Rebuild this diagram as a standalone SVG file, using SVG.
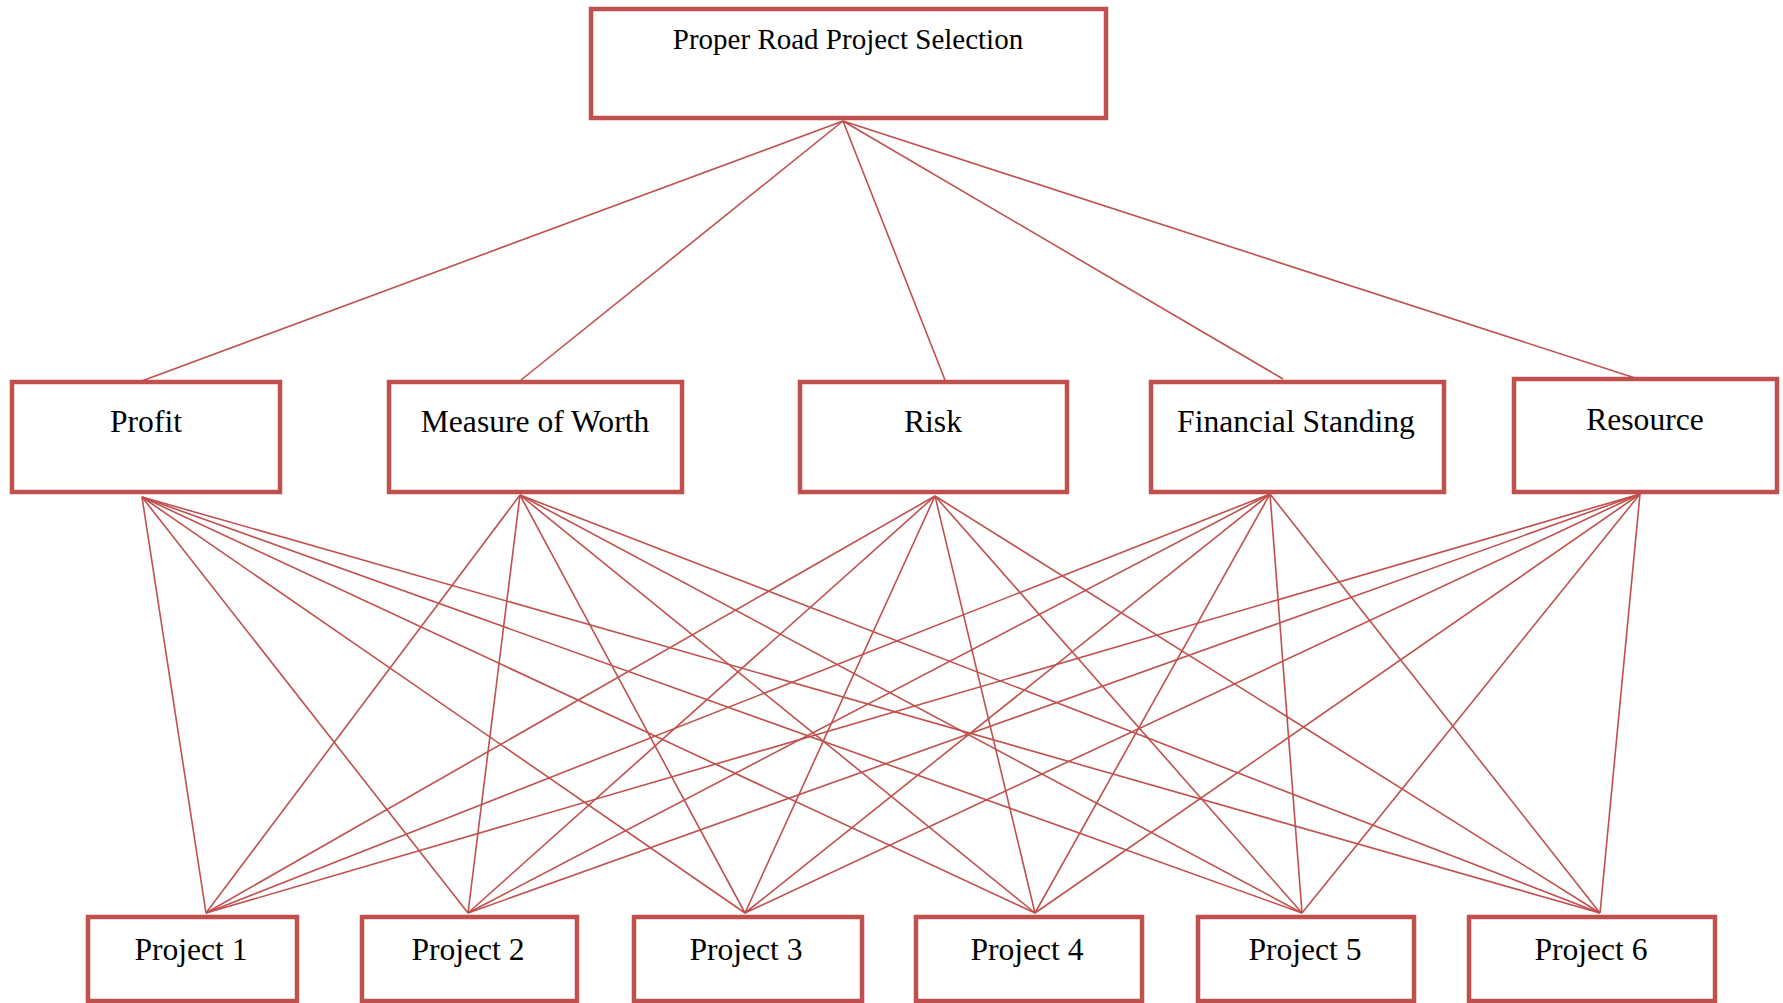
<svg xmlns="http://www.w3.org/2000/svg" width="1783" height="1003" viewBox="0 0 1783 1003">
  <style>
    .box { fill: #ffffff; stroke: #C0504D; stroke-width: 4.5; }
    .lbl { font-family: "Liberation Serif", "Times New Roman", serif; font-size: 31.6px; fill: #000000; text-anchor: middle; }
    .goal { font-size: 29px; }
    #connectors line { stroke: #C0504D; stroke-width: 1.6; }
  </style>
  <rect width="1783" height="1003" fill="#ffffff"/>

  <!-- connectors: goal to criteria, criteria to alternatives -->
  <g id="connectors">
    <line x1="843" y1="121" x2="139" y2="382"/>
    <line x1="843" y1="121" x2="521" y2="380"/>
    <line x1="843" y1="121" x2="945" y2="380"/>
    <line x1="843" y1="121" x2="1283" y2="379"/>
    <line x1="843" y1="121" x2="1635" y2="378"/>

    <!-- Profit -->
    <line x1="142" y1="497" x2="206" y2="913"/>
    <line x1="142" y1="497" x2="468" y2="913"/>
    <line x1="142" y1="497" x2="745" y2="913"/>
    <line x1="142" y1="497" x2="1035" y2="913"/>
    <line x1="142" y1="497" x2="1302" y2="913"/>
    <line x1="142" y1="497" x2="1600" y2="913"/>
    <!-- Measure of Worth -->
    <line x1="520" y1="495" x2="206" y2="913"/>
    <line x1="520" y1="495" x2="468" y2="913"/>
    <line x1="520" y1="495" x2="745" y2="913"/>
    <line x1="520" y1="495" x2="1035" y2="913"/>
    <line x1="520" y1="495" x2="1302" y2="913"/>
    <line x1="520" y1="495" x2="1600" y2="913"/>
    <!-- Risk -->
    <line x1="935" y1="496" x2="206" y2="913"/>
    <line x1="935" y1="496" x2="468" y2="913"/>
    <line x1="935" y1="496" x2="745" y2="913"/>
    <line x1="935" y1="496" x2="1035" y2="913"/>
    <line x1="935" y1="496" x2="1302" y2="913"/>
    <line x1="935" y1="496" x2="1600" y2="913"/>
    <!-- Financial Standing -->
    <line x1="1270" y1="494" x2="206" y2="913"/>
    <line x1="1270" y1="494" x2="468" y2="913"/>
    <line x1="1270" y1="494" x2="745" y2="913"/>
    <line x1="1270" y1="494" x2="1035" y2="913"/>
    <line x1="1270" y1="494" x2="1302" y2="913"/>
    <line x1="1270" y1="494" x2="1600" y2="913"/>
    <!-- Resource -->
    <line x1="1640" y1="494" x2="206" y2="913"/>
    <line x1="1640" y1="494" x2="468" y2="913"/>
    <line x1="1640" y1="494" x2="745" y2="913"/>
    <line x1="1640" y1="494" x2="1035" y2="913"/>
    <line x1="1640" y1="494" x2="1302" y2="913"/>
    <line x1="1640" y1="494" x2="1600" y2="913"/>
  </g>

  <!-- goal -->
  <g id="goal">
    <rect class="box" x="591" y="9" width="515" height="109"/>
    <text class="lbl goal" x="848" y="49">Proper Road Project Selection</text>
  </g>

  <!-- criteria -->
  <g id="profit">
    <rect class="box" x="12" y="382" width="268" height="110"/>
    <text class="lbl" x="146" y="432">Profit</text>
  </g>
  <g id="measure-of-worth">
    <rect class="box" x="389" y="382" width="293" height="110"/>
    <text class="lbl" x="535" y="432">Measure of Worth</text>
  </g>
  <g id="risk">
    <rect class="box" x="800" y="382" width="267" height="110"/>
    <text class="lbl" x="933" y="432">Risk</text>
  </g>
  <g id="financial-standing">
    <rect class="box" x="1151" y="382" width="293" height="110"/>
    <text class="lbl" x="1296" y="432">Financial Standing</text>
  </g>
  <g id="resource">
    <rect class="box" x="1514" y="379" width="263" height="113"/>
    <text class="lbl" x="1645" y="430">Resource</text>
  </g>

  <!-- alternatives -->
  <g id="project-1">
    <rect class="box" x="88" y="917" width="209" height="84"/>
    <text class="lbl" x="191" y="960">Project 1</text>
  </g>
  <g id="project-2">
    <rect class="box" x="362" y="917" width="215" height="84"/>
    <text class="lbl" x="468" y="960">Project 2</text>
  </g>
  <g id="project-3">
    <rect class="box" x="634" y="917" width="228" height="84"/>
    <text class="lbl" x="746" y="960">Project 3</text>
  </g>
  <g id="project-4">
    <rect class="box" x="916" y="917" width="226" height="84"/>
    <text class="lbl" x="1027" y="960">Project 4</text>
  </g>
  <g id="project-5">
    <rect class="box" x="1198" y="917" width="216" height="84"/>
    <text class="lbl" x="1305" y="960">Project 5</text>
  </g>
  <g id="project-6">
    <rect class="box" x="1469" y="917" width="246" height="84"/>
    <text class="lbl" x="1591" y="960">Project 6</text>
  </g>
</svg>
